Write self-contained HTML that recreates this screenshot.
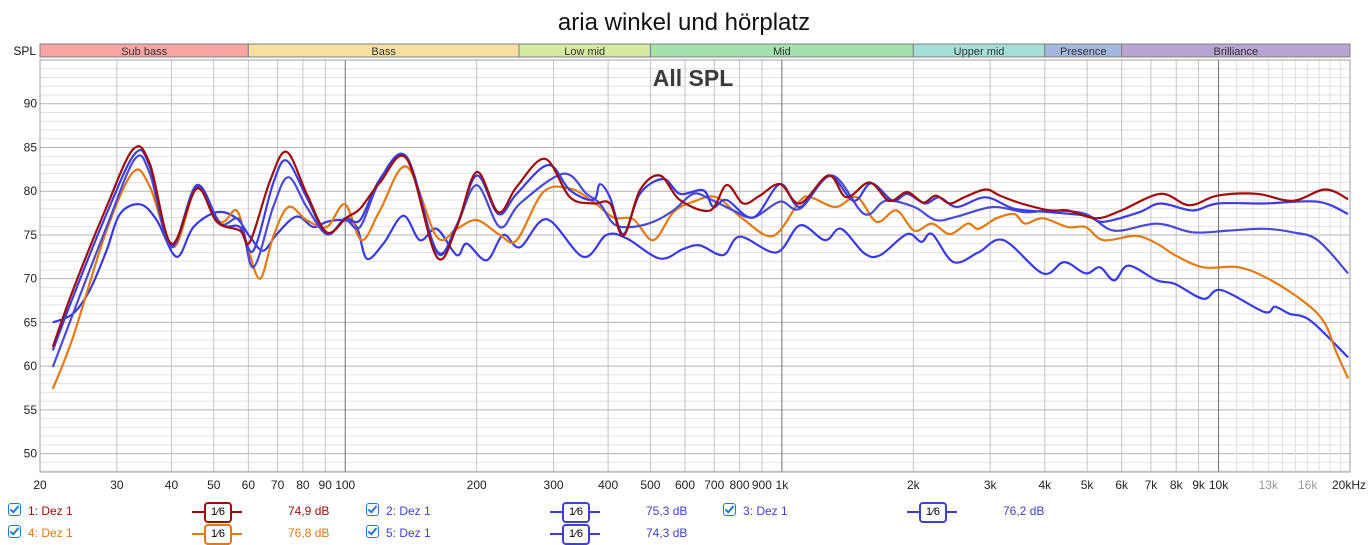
<!DOCTYPE html>
<html><head><meta charset="utf-8">
<style>
body{margin:0;background:#fff;width:1369px;height:544px;overflow:hidden;font-family:"Liberation Sans",sans-serif;}
svg{display:block}
.lg{position:absolute;font-size:12px;}
.cb{position:absolute;width:11px;height:11px;border:1.5px solid #1e7ad8;border-radius:3px;background:#fff;}
.cb:after{content:"";position:absolute;left:3px;top:0px;width:3px;height:7px;border:solid #1e7ad8;border-width:0 2px 2px 0;transform:rotate(40deg);}
.sm{position:absolute;height:2px;width:50px;}
.sm span{position:absolute;left:12px;top:-9px;width:24px;height:17px;border:2px solid;border-radius:4px;background:#fff;font-size:11px;color:#000;text-align:center;line-height:17px;}
</style></head>
<body>
<svg id="chart" width="1369" height="544">
<text x="684" y="30" text-anchor="middle" font-size="24" fill="#111" font-family="Liberation Sans, sans-serif">aria winkel und hörplatz</text>
<text x="36" y="55" text-anchor="end" font-size="12" fill="#111">SPL</text>
<g id="bands"></g>
<g id="grid"></g>
<text x="693" y="86" text-anchor="middle" font-size="23" font-weight="bold" fill="#3a3a3a">All SPL</text>
<g id="series"></g>
<g id="ticks"></g>
</svg>
<div id="legend"></div>
<script>
const bandNames=["Sub bass","Bass","Low mid","Mid","Upper mid","Presence","Brilliance"];
const bandEdges=[20,60,250,500,2000,4000,6000,20000];
const bandColors=["#f9a3a3","#f9e0a0","#d4eaa0","#a3e2ad","#a3e0d8","#a3b8e0","#b8a3d2"];
const yTicks=[50,55,60,65,70,75,80,85,90];
const xTickVals=[20,30,40,50,60,70,80,90,100,200,300,400,500,600,700,800,900,1000,2000,3000,4000,5000,6000,7000,8000,9000,10000,13000,16000,20000];
const xTickLabels=["20","30","40","50","60","70","80","90","100","200","300","400","500","600","700","800","900","1k","2k","3k","4k","5k","6k","7k","8k","9k","10k","13k","16k","20kHz"];

const f1=[21.4,23.8,28.4,32.7,35.7,40.0,45.7,50.8,57.4,60.5,67.3,73.4,81.6,90.7,100.8,108.1,120.1,138.3,162,180,200,224.2,247,286.7,327.1,369.8,404,433.5,473,525.8,584.1,684.4,747.2,815.8,890.6,990,1100,1279,1405,1587,1762,1935,2107,2250,2425,2615,2928,3157,3535,4111,4518,5250,5988,7367,8567,9956,12248,14786,17520,19803];
const s1=[62.2,68.7,78.2,84.8,83.1,74,80.3,76.5,75.5,74.2,81.2,84.5,79.7,75.3,77,78,81,83.7,72.5,75.9,82.2,77.6,80.5,83.7,79.3,78.6,78.6,74.9,80.1,81.8,79,77.8,80.7,78.6,79.5,80.8,78.6,81.8,79.3,81,78.9,79.9,78.7,79.5,78.6,79.3,80.2,79.5,78.6,77.8,77.8,76.9,77.8,79.7,78.4,79.5,79.7,78.9,80.2,79.1];

const f2=[21.4,23.8,28.4,33.0,35.7,40.0,45.7,51.7,57.4,61.6,68.4,73.4,81.6,90.7,99.9,108.1,120.1,138.3,162,180,200,224.2,247,291.8,327.1,369.8,383,404,433.5,473,535.1,584.1,660.7,696.5,747.2,860,990,1100,1279,1459,1602,1795,1935,2127,2293,2518,2928,3405,4111,4963,5453,6583,7367,8730,9956,12721,16871,19803];
const s2=[61.8,67.9,77.4,84.3,82.8,73.8,80.7,76.3,75.9,73.2,80.9,83.5,79.3,75.1,76.9,76.7,81.4,83.9,73.2,76.1,81.8,77.4,79.7,83,80.1,79,80.8,79.3,75.1,79.7,81.4,79.7,80.1,78.2,79,77,80.8,78.2,81.8,78.9,80.9,78.9,79.7,78.6,79.3,78.2,79.3,78,77.6,77.2,76.5,77.6,78.6,77.8,78.6,78.6,78.8,77.4];

const f3=[21.4,23.8,28.4,33.0,35.7,40.0,45.7,51.7,57.4,61.6,68.4,74.1,81.6,90.7,99.9,108.1,120.1,138.3,162,180,200,226.1,251.4,315.8,357,383,411.2,449,507.6,564.1,626.7,684.4,774,860,990,1100,1303,1544,1729,2010,2250,2518,3041,3601,4111,4963,5769,7229,8730,10532,12721,14786,16871,19803];
const s3=[59.9,66,75.9,83.7,82,73.6,80.5,76.3,76.7,71.3,78.2,81.6,78.2,75.1,76.7,75.9,81.2,83.9,73,76.1,80.7,75.9,78.6,82,79.7,78.6,76.3,75.9,76.5,77.8,79.7,79.1,77.8,77,78.8,78,81.8,77.4,78.9,78.2,76.7,77.1,78.2,77.6,77.8,77.4,75.5,76.3,75.3,75.5,75.7,75.3,74.4,70.6];

const f4=[21.4,23.8,28.4,32.7,35.7,40.4,45.7,51.7,56.4,59.5,63.8,68.4,74.1,81.6,90.7,99.9,109.1,120.1,138.3,162,180,200,226.1,247,284.2,327.1,369.8,411.2,456.8,507.6,564.1,626.7,708.8,815.8,955.6,1100,1164,1328,1486,1648,1829,2010,2208,2425,2665,2819,3099,3405,3601,3960,4518,4963,5453,6458,7229,7943,9232,11144,13207,15941,17520,18535,19803];
const s4=[57.4,63.3,75.5,82.2,80.5,73.6,80.3,76.5,77.8,74,70,74.8,78.2,76.7,75.9,78.5,74.4,77.8,82.8,74.8,75.7,76.7,75,74.4,79.9,80.3,78.8,77,76.8,74.4,77.6,78.8,79.3,76.8,74.9,78.9,79.3,78.2,79.3,76.5,77.8,75.5,76.3,75.1,76.3,75.7,76.9,77.4,76.3,76.9,75.9,75.9,74.4,74.9,74,72.7,71.3,71.3,69.8,67.1,64.9,61.8,58.6];

const f5=[21.4,23.8,26.0,28.4,30.5,33.9,37.0,41.1,44.9,50.8,56.4,60.5,64.9,69.7,77.4,84.5,90.7,99.0,106.3,112,122.3,135.8,148.3,162,180,189.8,210.8,230.2,251.4,289.3,350.8,396.7,441.1,525.8,594.5,649.2,734.2,801.6,972.6,1100,1255,1366,1544,1680,1935,2087,2208,2472,2819,3217,3960,4432,4963,5351,5769,6220,7229,7943,9232,10145,12721,13458,14511,16244,19803];
const s5=[65.0,66,68.7,73.2,77.4,78.5,76.7,72.5,75.9,77.6,76.9,74.8,73.2,75.1,77.1,75.9,76.5,76.7,75.9,72.3,74,77.2,74.4,75.7,72.7,74,72.1,75,73.6,76.8,72.5,75,74.6,72.3,73.4,73.8,72.7,74.8,73,76.1,74.4,75.7,72.9,72.7,75.1,74.2,75.1,71.9,73,74.4,70.6,71.9,70.6,71.3,69.8,71.5,69.8,69.4,67.7,68.7,66.2,66.8,66,65.2,61];

const seriesNames=["1: Dez 1","2: Dez 1","3: Dez 1","4: Dez 1","5: Dez 1"];
const seriesAvg=["74,9 dB","75,3 dB","76,2 dB","76,8 dB","74,3 dB"];

const L=40,R=1350,T=60,B=472,YMIN=47.9,YMAX=95;
const NS="http://www.w3.org/2000/svg";
function xs(f){return L+(R-L)*Math.log10(f/20)/3;}
function ys(v){return B-(v-YMIN)/(YMAX-YMIN)*(B-T);}
function mk(tag,attrs,parent){const e=document.createElementNS(NS,tag);for(const k in attrs)e.setAttribute(k,attrs[k]);parent.appendChild(e);return e;}

const gb=document.getElementById('bands');
for(let i=0;i<bandNames.length;i++){
  const x0=xs(bandEdges[i]),x1=xs(bandEdges[i+1]);
  const r=mk('rect',{x:x0,y:44,width:x1-x0,height:13,fill:bandColors[i],stroke:"#808080","stroke-width":1},gb);
  
  
  const t=mk('text',{x:(x0+x1)/2,y:55,"text-anchor":"middle","font-size":11,fill:"#333"},gb);
  t.textContent=bandNames[i];
  
  
}

const gg=document.getElementById('grid');
mk('rect',{x:L,y:T,width:R-L,height:B-T,fill:"#fff"},gg);
for(let v=48;v<=95;v++){
  const l=mk('line',{x1:L,x2:R,y1:ys(v),y2:ys(v),stroke:v%5==0?"#b4b4b4":"#e2e2e2","stroke-width":1},gg);
  
  
}
for(let d=10;d<=10000;d*=10){
  for(let m=1;m<=9;m++){
    const f=d*m; if(f<20||f>20000) continue;
    const dec=(m==1&&d>=100);
    const l=mk('line',{x1:xs(f),x2:xs(f),y1:T,y2:B,stroke:dec?"#707070":"#c4c4c4","stroke-width":1},gg);
    
    
  }
}
for(let f=11000;f<20000;f+=1000){if(f%10000==0)continue;
  const l=mk('line',{x1:xs(f),x2:xs(f),y1:T,y2:B,stroke:"#e0e0e0","stroke-width":1},gg);
  
  
}
mk('rect',{x:L,y:T,width:R-L,height:B-T,fill:"none",stroke:"#a0a0a0"},gg);

const gt=document.getElementById('ticks');
yTicks.forEach(v=>{const t=mk('text',{x:37,y:ys(v)+4,"text-anchor":"end","font-size":12,fill:"#222"},gt);t.textContent=v;
  
  });
xTickVals.forEach((f,i)=>{const grey=(f==13000||f==16000);
  const t=mk('text',{x:xs(f)+(f==20000?-1:0),y:489,"text-anchor":"middle","font-size":12,fill:grey?"#999":"#222"},gt);t.textContent=xTickLabels[i];
  
  });

const data=[[f1,s1,"#a00c0c"],[f2,s2,"#3c3ce0"],[f3,s3,"#4a4ad4"],[f4,s4,"#e47a14"],[f5,s5,"#3a3ae4"]];
const gs=document.getElementById('series');
const order=[4,3,2,1,0];
order.forEach(i=>{
  const [fs,vs,c]=data[i];
  const p=fs.map((f,k)=>[xs(f),ys(vs[k])]);
  let d="M"+p[0][0].toFixed(1)+","+p[0][1].toFixed(1);
  for(let k=0;k<p.length-1;k++){
    const p0=p[Math.max(0,k-1)],p1=p[k],p2=p[k+1],p3=p[Math.min(p.length-1,k+2)];
    const c1=[p1[0]+(p2[0]-p0[0])/6,p1[1]+(p2[1]-p0[1])/6];
    const c2=[p2[0]-(p3[0]-p1[0])/6,p2[1]-(p3[1]-p1[1])/6];
    d+=" C"+c1[0].toFixed(1)+","+c1[1].toFixed(1)+" "+c2[0].toFixed(1)+","+c2[1].toFixed(1)+" "+p2[0].toFixed(1)+","+p2[1].toFixed(1);
  }
  const path=mk('path',{d:d,fill:"none",stroke:c,"stroke-width":2.2,"stroke-linejoin":"round"},gs);
  
  
});

const lg=document.getElementById('legend');
const pos=[[14,511,0],[372,511,1],[729,511,2],[14,533,3],[372,533,4]];
const cols=["#a00c0c","#4040d0","#4040d0","#e07a14","#4040d0"];
pos.forEach(([x,y,i])=>{
  const cb=document.createElement('div');cb.className='cb';cb.style.left=(x-6)+'px';cb.style.top=(y-8)+'px';
  
  
  lg.appendChild(cb);
  const t=document.createElement('div');t.className='lg';t.style.left=(x+14)+'px';t.style.top=(y-7)+'px';t.style.color=cols[i];t.textContent=seriesNames[i];
  
  
  lg.appendChild(t);
  const sm=document.createElement('div');sm.className='sm';sm.style.left=(x+178)+'px';sm.style.top=(y)+'px';sm.style.background=cols[i];
  sm.innerHTML='<span style="border-color:'+cols[i]+'">1⁄6</span>';
  
  
  lg.appendChild(sm);
  const a=document.createElement('div');a.className='lg';a.style.left=(x+274)+'px';a.style.top=(y-7)+'px';a.style.color=cols[i];a.textContent=seriesAvg[i];
  
  
  lg.appendChild(a);
});
</script>
</body></html>
